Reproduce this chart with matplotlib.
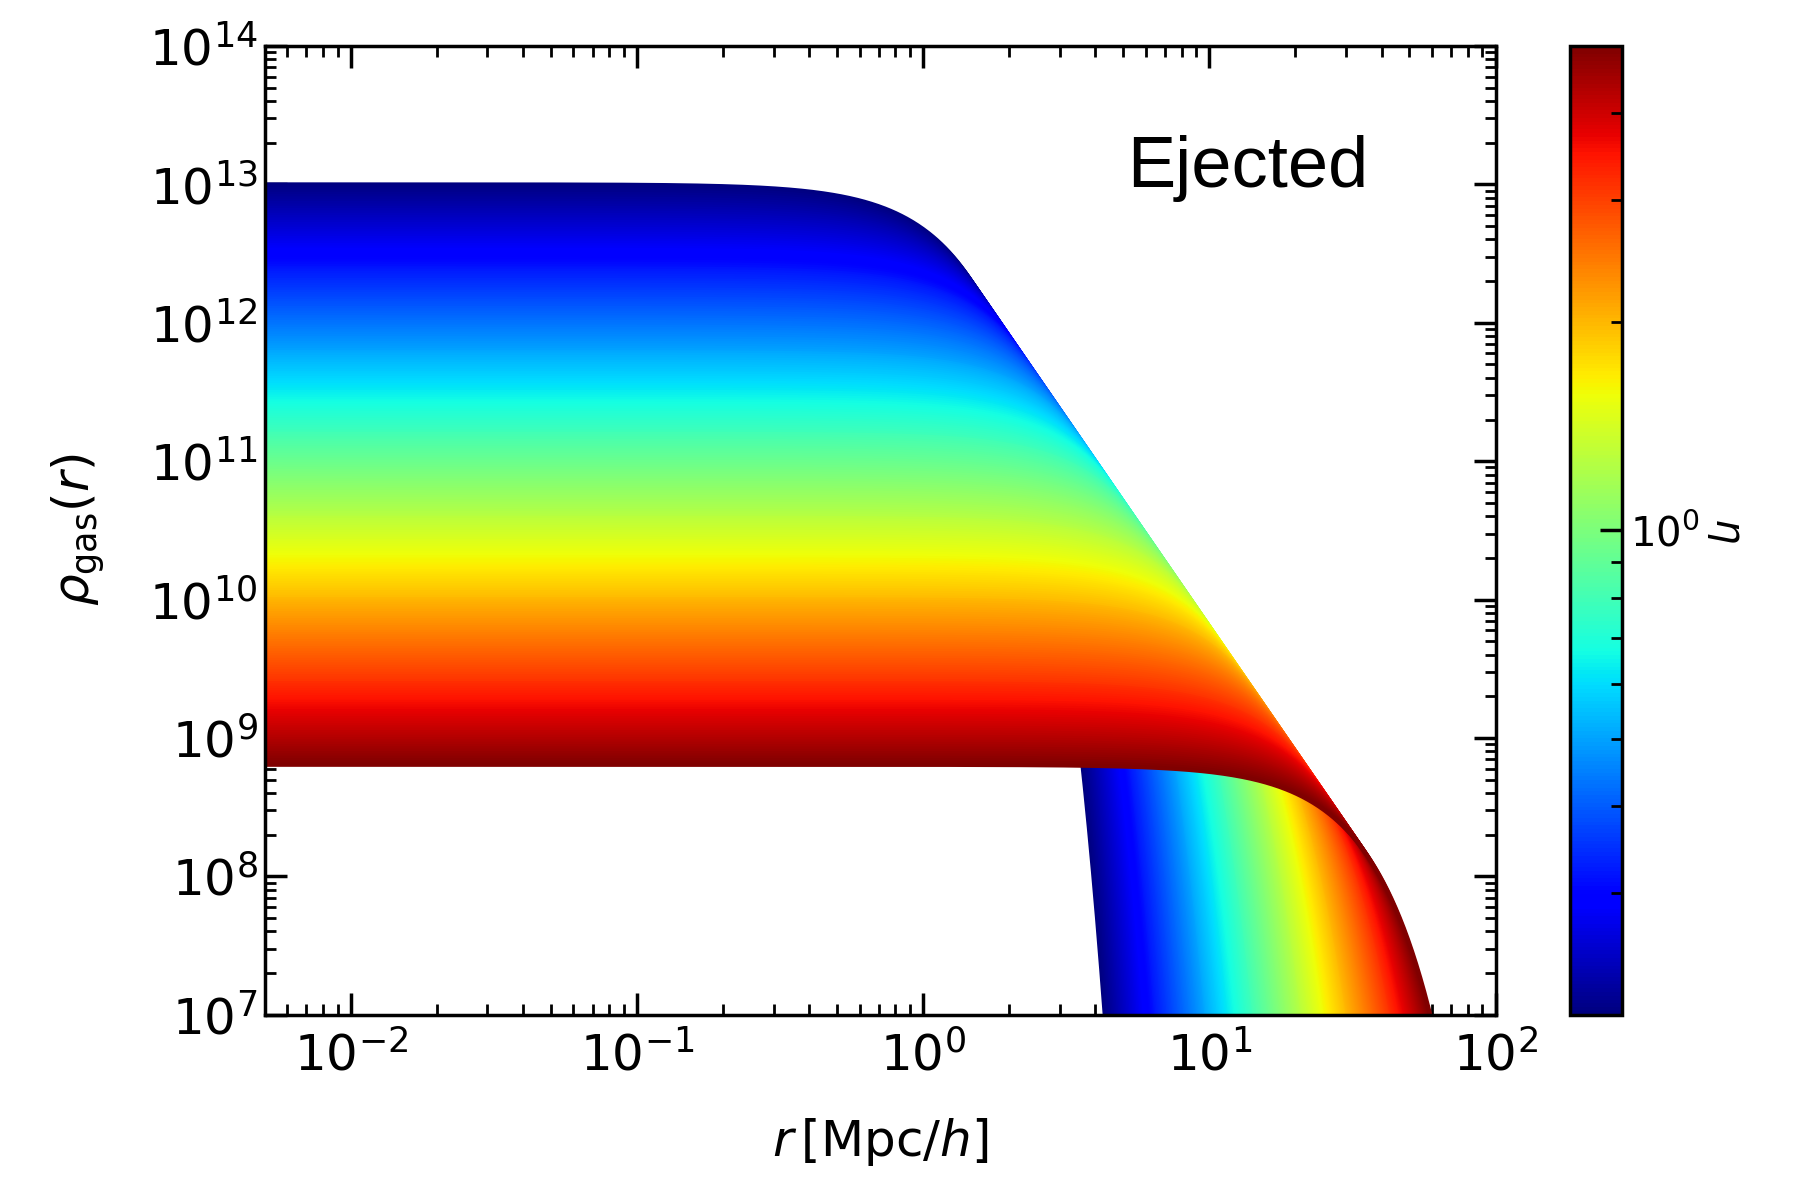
import numpy as np
import matplotlib.pyplot as plt
from matplotlib.colors import LogNorm
from matplotlib import ticker

# values
eta_min, eta_max = 0.2, 5.0      # colour bar range
n_curves = 250
rho_core_top = 1.0e13            # core density of the eta_min curve
r_ej_top = 0.82                  # gaussian width of the eta_min curve [Mpc/h]
r_min, r_max = 0.005, 100.0
rho_lo, rho_hi = 1e7, 1e14

eta = np.logspace(np.log10(eta_min), np.log10(eta_max), n_curves)
r = np.logspace(np.log10(r_min), np.log10(r_max), 900)

# ejected gas: gaussian with fixed mass, width grows with eta
r_ej = r_ej_top * eta / eta_min
rho_core = rho_core_top * (r_ej_top / r_ej) ** 3

cmap = plt.get_cmap('jet')
norm = LogNorm(vmin=eta_min, vmax=eta_max)

fig = plt.figure(figsize=(18.04, 11.77), dpi=100)
ax = fig.add_axes([0.1467, 0.1379, 0.6823, 0.8230])
cax = fig.add_axes([0.8705, 0.1379, 0.0287, 0.8230])

for i in range(n_curves):
    rho = rho_core[i] * np.exp(-r ** 2 / (2 * r_ej[i] ** 2))
    rho = np.where(rho > 1e4, rho, np.nan)
    ax.plot(r, rho, color=cmap(norm(eta[i])), lw=3)

ax.set_xscale('log')
ax.set_yscale('log')
ax.set_xlim(r_min, r_max)
ax.set_ylim(rho_lo, rho_hi)

for axis in (ax.xaxis, ax.yaxis):
    axis.set_major_locator(ticker.LogLocator(base=10, numticks=20))
    axis.set_minor_locator(ticker.LogLocator(base=10, subs=np.arange(2, 10), numticks=20))
    axis.set_minor_formatter(ticker.NullFormatter())

ax.tick_params(which='both', direction='in', top=True, right=True, labelsize=36)
ax.tick_params(which='major', length=16, width=2.5)
ax.tick_params(which='minor', length=8, width=2)
ax.tick_params(axis='x', pad=12)
ax.tick_params(axis='y', pad=5)
for s in ax.spines.values():
    s.set_linewidth(2.5)

ax.set_xlabel(r'$r\,[\mathrm{Mpc}/h]$', fontsize=36)
ax.set_ylabel(r'$\rho_{\mathrm{gas}}(r)$', fontsize=36)
ax.xaxis.set_label_coords(0.5, -0.105)
ax.yaxis.set_label_coords(-0.128, 0.5)

sm = plt.cm.ScalarMappable(norm=norm, cmap=cmap)
cb = fig.colorbar(sm, cax=cax)
cb.minorticks_on()
cb.ax.yaxis.set_minor_formatter(ticker.NullFormatter())
cb.ax.tick_params(which='both', direction='in', labelsize=29, pad=6)
cb.ax.tick_params(which='major', length=16, width=2.5)
cb.ax.tick_params(which='minor', length=8, width=2)
cb.outline.set_linewidth(2.5)
cb.set_label(r'$\eta$', fontsize=29, rotation=270, va='bottom')
cb.ax.yaxis.set_label_coords(2.6, 0.5)

fig.text(0.625, 0.8407, 'Ejected', fontsize=52, family='Liberation Sans', va='baseline')

fig.savefig('out.png', dpi=100)
